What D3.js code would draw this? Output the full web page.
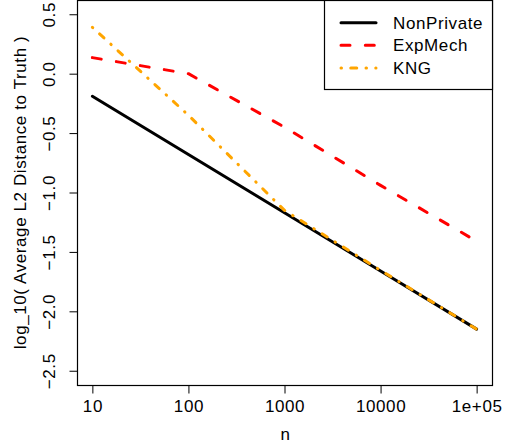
<!DOCTYPE html>
<html>
<head>
<meta charset="utf-8">
<script src="https://cdn.jsdelivr.net/npm/d3@7"></script>
<style>
  body { margin: 0; background: #fff; }
  text { font-family: 'Liberation Sans', Arial, sans-serif; fill: #000; letter-spacing: 0.6px; }
</style>
</head>
<body>
<svg id="chart" width="508" height="448"></svg>
<script>
const nValues = [10, 100, 1000, 10000, 100000];
const nonPrivate = [-0.19, -0.68, -1.17, -1.66, -2.15];
const expMech = [0.135, 0.0, -0.45, -0.94, -1.41];
const kng = [0.39, -0.35, -1.15, -1.655, -2.15];

const xTicks = [10, 100, 1000, 10000, 100000];
const xTickLabels = ['10', '100', '1000', '10000', '1e+05'];
const yTicks = [0.5, 0.0, -0.5, -1.0, -1.5, -2.0, -2.5];

const seriesNames = ['NonPrivate', 'ExpMech', 'KNG'];
const seriesData = [nonPrivate, expMech, kng];
const seriesColors = ['#000000', '#ff0000', '#ffa500'];
const seriesDash = [null, '9 15.3', '0.5 9.25 6 9.25'];

const box = {left: 77, right: 492, top: 0, bottom: 385};
const fontSize = 17;
const fontFamily = 'Liberation Sans, Arial, sans-serif';

const svg = d3.select('#chart');

// R style 4% padding on both axes
const x = d3.scaleLog()
  .domain([Math.pow(10, 0.84), Math.pow(10, 5.16)])
  .range([box.left, box.right]);

const y = d3.scaleLinear()
  .domain([-2.62, 0.62])
  .range([box.bottom, box.top]);

const line = d3.line()
  .x(d => x(d.n))
  .y(d => y(d.v));

// Series
seriesData.forEach((values, i) => {
  const pts = nValues.map((n, j) => ({n: n, v: values[j]}));
  svg.append('path')
    .datum(pts)
    .attr('d', line)
    .attr('fill', 'none')
    .attr('stroke', seriesColors[i])
    .attr('stroke-width', 3)
    .attr('stroke-linecap', 'round')
    .attr('stroke-linejoin', 'round')
    .attr('stroke-dasharray', seriesDash[i]);
});

// Box
svg.append('rect')
  .attr('x', box.left + 0.5)
  .attr('y', box.top + 0.5)
  .attr('width', box.right - box.left)
  .attr('height', box.bottom - box.top)
  .attr('fill', 'none')
  .attr('stroke', '#000')
  .attr('stroke-width', 1.2);

// Axes
const xAxis = d3.axisBottom(x)
  .tickValues(xTicks)
  .tickFormat((d, i) => xTickLabels[i])
  .tickSize(8);

const axisX = svg.append('g')
  .attr('transform', `translate(0, ${box.bottom + 0.5})`)
  .call(xAxis);
axisX.select('.domain')
  .attr('d', `M${x(xTicks[0])},0H${x(xTicks[xTicks.length - 1])}`);
axisX.selectAll('text')
  .attr('font-size', fontSize)
  .attr('font-family', fontFamily)
  .attr('y', 26.5)
  .attr('dy', null);

const yAxis = d3.axisLeft(y)
  .tickValues(yTicks)
  .tickFormat(d => d3.format('.1f')(d).replace('-', '\u2212'))
  .tickSize(8);

const axisY = svg.append('g')
  .attr('transform', `translate(${box.left + 0.5}, 0)`)
  .call(yAxis);
axisY.select('.domain')
  .attr('d', `M0,${y(yTicks[0])}V${y(yTicks[yTicks.length - 1])}`);
axisY.selectAll('text')
  .attr('font-size', fontSize)
  .attr('font-family', fontFamily)
  .attr('text-anchor', 'middle')
  .attr('x', null)
  .attr('y', 0)
  .attr('dy', null)
  .attr('transform', 'translate(-22.5, 0) rotate(-90)');

// Axis titles
svg.append('text')
  .attr('x', (box.left + box.right) / 2 + 1)
  .attr('y', 440)
  .attr('text-anchor', 'middle')
  .attr('font-size', fontSize)
  .text('n');

svg.append('text')
  .attr('transform', `translate(26, ${(box.top + box.bottom) / 2}) rotate(-90)`)
  .attr('text-anchor', 'middle')
  .attr('font-size', fontSize)
  .text('log_10( Average L2 Distance to Truth )');

// Legend
const legend = svg.append('g');
legend.append('rect')
  .attr('x', 324.5)
  .attr('y', 0.5)
  .attr('width', box.right - 324)
  .attr('height', 89)
  .attr('fill', '#fff')
  .attr('stroke', '#000')
  .attr('stroke-width', 1.2);

const rowY = [22.7, 45.3, 68];
seriesNames.forEach((name, i) => {
  legend.append('line')
    .attr('x1', 341)
    .attr('x2', 376)
    .attr('y1', rowY[i])
    .attr('y2', rowY[i])
    .attr('stroke', seriesColors[i])
    .attr('stroke-width', 3)
    .attr('stroke-linecap', 'round')
    .attr('stroke-dasharray', seriesDash[i]);
  legend.append('text')
    .attr('x', 393)
    .attr('y', rowY[i] + 6)
    .attr('font-size', fontSize)
    .text(name);
});
</script>
</body>
</html>
